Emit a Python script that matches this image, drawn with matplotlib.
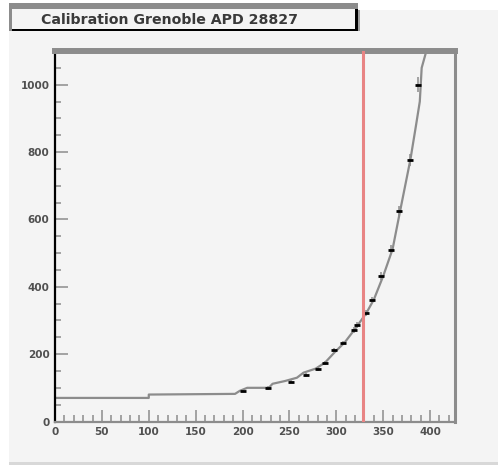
import matplotlib.pyplot as plt
from matplotlib.patches import Rectangle
from matplotlib.ticker import MultipleLocator

# Calibration points (voltage, gain) and their errors
volt = [200, 227, 252, 268, 280, 288, 298, 307, 319, 322, 332, 338, 348, 358, 367, 379, 387]
gain = [91, 100, 118, 138, 156, 174, 213, 233, 272, 287, 322, 361, 432, 510, 625, 777, 1000]
gain_err = [4, 6, 4, 5, 5, 6, 6, 6, 8, 8, 10, 10, 12, 14, 16, 18, 22]

# Fitted curve as drawn
fit_x = [0, 100, 100, 192, 197, 205, 228, 232, 245, 258, 265, 278, 288, 298, 309,
         320, 332, 340, 350, 360, 368, 379, 385, 389, 391, 396]
fit_y = [70, 70, 80, 82, 91, 100, 100, 112, 120, 130, 145, 157, 175, 205, 235,
         275, 322, 362, 432, 512, 625, 778, 880, 950, 1050, 1100]

working_point = 328
title = "Calibration Grenoble APD 28827"

W, H = 498, 465
fig = plt.figure(figsize=(W / 100, H / 100), dpi=100, facecolor="white")


def box(x0, y0, x1, y1, color):
    # rectangle given in pixel coordinates from the top-left corner
    fig.patches.append(Rectangle((x0 / W, 1 - y1 / H), (x1 - x0) / W, (y1 - y0) / H,
                                 transform=fig.transFigure, facecolor=color,
                                 edgecolor="none", zorder=-5))


# canvas pad
box(9, 10, 498, 462, "#f4f4f4")
box(9, 462, 498, 465, "#d8d8d8")

# title pave
box(9, 3, 358, 31, "#f4f4f4")
box(9, 3, 358, 9, "#8c8c8c")
box(9, 3, 12, 31, "#8c8c8c")
box(12, 29, 358, 31.5, "#000000")
box(355, 9, 358, 31.5, "#000000")
box(358, 10, 360, 31.5, "#a0a0a0")
fig.text(169 / W, 1 - 20 / H, title, ha="center", va="center",
         fontsize=10.2, fontweight="bold", color="#3a3a3a")

ax = fig.add_axes([55 / W, 1 - 421.5 / H, (454.5 - 55) / W, (421.5 - 51) / H])
ax.set_zorder(2)
ax.set_facecolor("#f4f4f4")

ax.plot(fit_x, fit_y, color="#8c8c8c", lw=1.6, zorder=2)
ax.errorbar(volt, gain, yerr=gain_err, fmt="_", color="black", ecolor="#8c8c8c",
            elinewidth=1.1, markersize=5, markeredgewidth=2.0, zorder=3)
ax.axvline(working_point, color="#e88484", lw=2.2, zorder=4)

ax.set_xlim(0, 426)
ax.set_ylim(0, 1100)

ax.xaxis.set_major_locator(MultipleLocator(50))
ax.xaxis.set_minor_locator(MultipleLocator(10))
ax.yaxis.set_major_locator(MultipleLocator(200))
ax.yaxis.set_minor_locator(MultipleLocator(50))

ax.tick_params(axis="x", which="major", direction="in", length=8.5, width=1.1,
               color="#8c8c8c", labelsize=7.5, labelcolor="#505050", pad=4)
ax.tick_params(axis="x", which="minor", direction="in", length=5, width=1.1,
               color="#8c8c8c")
ax.tick_params(axis="y", which="major", direction="in", length=9, width=1.1,
               color="#8c8c8c", labelsize=7.5, labelcolor="#505050", pad=4)
ax.tick_params(axis="y", which="minor", direction="in", length=4.3, width=1.1,
               color="#8c8c8c")
for lab in ax.get_xticklabels() + ax.get_yticklabels():
    lab.set_fontweight("bold")

ax.spines["left"].set_color("black")
ax.spines["left"].set_linewidth(1.6)
ax.spines["bottom"].set_color("#8c8c8c")
ax.spines["bottom"].set_linewidth(1.6)
ax.spines["top"].set_color("#8c8c8c")
ax.spines["top"].set_linewidth(4.3)
ax.spines["right"].set_color("#8c8c8c")
ax.spines["right"].set_linewidth(2.2)

fig.savefig("out.png", dpi=100, facecolor=fig.get_facecolor())
